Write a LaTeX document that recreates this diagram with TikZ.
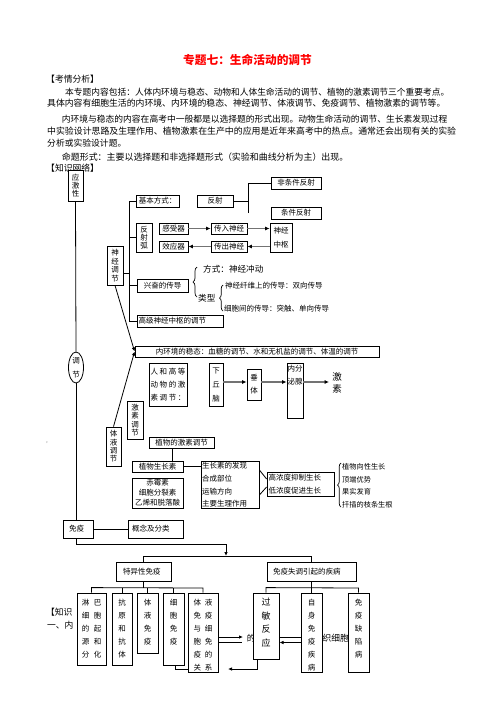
\documentclass[tikz,border=0pt]{standalone}
\usepackage{fontspec}
\newfontfamily\cjk{Noto Sans CJK SC}
\usetikzlibrary{arrows.meta,shapes.geometric,decorations.pathreplacing}
\newcommand\myfs[2]{\fontsize{#1}{#2}\selectfont}
\newcommand\jrow[1]{\hbox to 35pt{#1}}
\begin{document}
\begin{tikzpicture}[x=1pt,y=-1pt,
  box/.style={draw, line width=0.8pt, fill=white, inner sep=0pt, align=center, font=\cjk\myfs{7.5}{9}},
  vtx/.style={inner sep=0pt, align=center, font=\cjk\myfs{7.5}{13}},
  lbl/.style={inner sep=0pt, anchor=west, font=\cjk\myfs{7.5}{9}},
  para/.style={inner sep=0pt, anchor=west},
  conn/.style={line width=0.8pt},
  arr/.style={line width=0.8pt, -{Latex[length=4pt,width=3.5pt]}},
  garr/.style={line width=1.3pt, draw=black!55, -{Latex[length=4.5pt,width=4pt,color=black]}},
  brc/.style={decorate, decoration={brace, amplitude=4pt}, line width=0.7pt}]
\useasboundingbox (0,0) rectangle (496,702);
\fill[white] (0,0) rectangle (496,702);

% ---------- title and text ----------
\node[inner sep=0pt, font=\cjk\bfseries\myfs{11.7}{14}, text=red] (title) at (247.5,60) {专题七：生命活动的调节};
\node[para, font=\cjk\myfs{8.8}{10}] (h1) at (46,79.3) {【考情分析】};
\node[para, font=\cjk\myfs{8.73}{10}] (l1) at (65,92.3) {本专题内容包括：人体内环境与稳态、动物和人体生命活动的调节、植物的激素调节三个重要考点。};
\node[para, font=\cjk\myfs{8.85}{10}] (l2) at (47,103.5) {具体内容有细胞生活的内环境、内环境的稳态、神经调节、体液调节、免疫调节、植物激素的调节等。};
\node[para, font=\cjk\myfs{8.76}{10}] (l3) at (61.7,119) {内环境与稳态的内容在高考中一般都是以选择题的形式出现。动物生命活动的调节、生长素发现过程};
\node[para, font=\cjk\myfs{8.89}{10}] (l4) at (47,131) {中实验设计思路及生理作用、植物激素在生产中的应用是近年来高考中的热点。通常还会出现有关的实验};
\node[para, font=\cjk\myfs{8.8}{10}] (l5) at (47,143.3) {分析或实验设计题。};
\node[para, font=\cjk\myfs{8.95}{10}] (l6) at (61.7,156.7) {命题形式：主要以选择题和非选择题形式（实验和曲线分析为主）出现。};
\node[para, font=\cjk\myfs{8.8}{10}] (h2) at (46,168.3) {【知识网络】};
\node[inner sep=0pt, font=\cjk\myfs{6}{7}, text=gray] (cm) at (47,443) {,};

% background text fragments visible between the boxes at the bottom
\node[para, font=\cjk\myfs{8.75}{10}] (bg1) at (46,612) {【知识};
\node[para, font=\cjk\myfs{8.75}{10}] (bg2) at (47,625) {一、内};
\node[inner sep=0pt, font=\cjk\myfs{8.5}{10}] (bg3) at (251,638) {的};
\node[para, font=\cjk\myfs{8.7}{10}] (bg4) at (322.5,638) {织细胞};

% ---------- left column ----------
\node[box, minimum width=15pt, minimum height=31pt, font=\cjk\myfs{7.5}{8}] (yjx) at (75.5,185.5) {应\\激\\性};
\node[draw, ellipse, line width=0.8pt, fill=white, minimum width=15pt, minimum height=31pt, inner sep=0pt, align=center, font=\cjk\myfs{7.5}{14}] (tj) at (76,367.5) {调\\节};
\node[box, align=left, text width=18pt, inner xsep=6pt, minimum height=18pt] (my) at (78,529) {免疫};
\node[box, align=left, text width=47pt, inner xsep=4pt, minimum height=18pt] (gn) at (155.5,529) {概念及分类};

% ---------- nerve regulation ----------
\node[box, minimum width=16pt, minimum height=39pt, font=\cjk\myfs{7.5}{8.5}] (sjtj) at (115,265.5) {神\\经\\调\\节};
\node[box, minimum width=43pt, minimum height=12pt] (jbfs) at (157.5,201) {基本方式：};
\node[box, minimum width=36pt, minimum height=12pt] (fs) at (215,201) {反射};
\node[box, minimum width=50pt, minimum height=12pt] (ftj) at (296,183) {非条件反射};
\node[box, minimum width=50pt, minimum height=12pt] (tjfs) at (296,213) {条件反射};
\node[box, minimum width=16pt, minimum height=29pt, font=\cjk\myfs{7.5}{8}] (fsh) at (144,237.5) {反\\射\\弧};
\node[box, minimum width=29pt, minimum height=11pt] (gsq) at (173.5,228.5) {感受器};
\node[box, minimum width=36pt, minimum height=11pt] (crsj) at (229,228.5) {传入神经};
\node[box, minimum width=22pt, minimum height=29pt, font=\cjk\myfs{7.5}{14}] (sjzs) at (281,237.5) {神经\\中枢};
\node[box, minimum width=29pt, minimum height=11pt] (xyq) at (173.5,246.5) {效应器};
\node[box, minimum width=36pt, minimum height=11pt] (ccsj) at (229,246.5) {传出神经};
\node[box, minimum width=51pt, minimum height=13pt] (xfcd) at (162.5,285.5) {兴奋的传导};
\node[box, align=left, text width=83pt, inner xsep=1.5pt, minimum height=12pt] (gjsj) at (180,321) {高级神经中枢的调节};

\node[lbl, font=\cjk\myfs{8.6}{10}] (fsz) at (203,269) {方式：神经冲动};
\node[lbl, font=\cjk\myfs{8.6}{10}] (lx) at (198,298) {类型};
\node[lbl] (sw1) at (225,286) {神经纤维上的传导：双向传导};
\node[lbl] (sw2) at (224,309) {细胞间的传导：突触、单向传导};
\draw[brc] (197,297) -- (197,267);
\draw[brc, decoration={brace, amplitude=3.5pt}] (223,311) -- (223,285);

% trunk of nerve regulation
\coordinate (trT) at (129,201);
\coordinate (trB) at (129,321);
\draw[conn] (jbfs.west) -- (trT) -- (trB) -- (gjsj.west);
\draw[conn] (fsh.west) -- (fsh.west -| trT);
\draw[conn] (sjtj.east |- 0,273) -- (trT |- 0,273);
\draw[conn] (xfcd.west) -- (xfcd.west -| trT);

% reflex
\coordinate (rfT) at (248,183);
\coordinate (rfB) at (248,213);
\draw[conn] (fs.east) -- (fs.east -| rfT);
\draw[conn] (rfB) -- (rfT) -- (ftj.west);

% reflex arc arrows
\draw[garr] (gsq.east) -- (crsj.west);
\draw[garr] (crsj.east) -- (crsj.east -| sjzs.west);
\draw[garr] (ccsj.east -| sjzs.west) -- (ccsj.east);
\draw[garr] (ccsj.west) -- (xyq.east);

% ---------- internal environment / hormones ----------
\node[box, minimum width=244pt, minimum height=11pt] (nhj) at (257,351.5) {内环境的稳态：血糖的调节、水和无机盐的调节、体温的调节};
\node[box, minimum width=15pt, minimum height=39pt, font=\cjk\myfs{7.5}{8.3}] (tytj) at (113.5,446.5) {体\\液\\调\\节};
\node[box, minimum width=16pt, minimum height=38pt, font=\cjk\myfs{7.5}{8.3}] (jstj) at (135,420) {激\\素\\调\\节};
\draw[arr] (sjtj.south) -- (nhj.west);
\draw[arr] (tytj.north) -- (nhj.west);

\node[box, minimum width=38pt, minimum height=43pt, font=\cjk\myfs{7.5}{13}] (rhgd) at (168,384.5) {\jrow{人\hfill 和\hfill 高\hfill 等}\\\jrow{动\hfill 物\hfill 的\hfill 激}\\\jrow{素\hfill 调\hfill 节\hfill ：}};
\node[box, minimum width=14pt, minimum height=43pt, font=\cjk\myfs{7.5}{14}] (xqn) at (216,384.5) {下\\丘\\脑};
\node[box, minimum width=14pt, minimum height=31pt, font=\cjk\myfs{7.5}{13}] (ct) at (254,384.5) {垂\\体};
\node[box, minimum width=16pt, minimum height=55pt] (nfmx) at (295,390.5) {};
\node[vtx] (nfmxt) at (295,375.5) {内分\\泌腺};
\node[inner sep=0pt, align=center, font=\cjk\myfs{9.5}{11.5}] (jsu) at (337,383) {激\\素};
\draw[garr] (xqn.east |- 0,382) -- (ct.west |- 0,382);
\draw[garr] (ct.east |- 0,382) -- (nfmx.west |- 0,382);
\draw[garr] (nfmx.east |- 0,382) -- ([xshift=-3pt]jsu.west |- 0,382);

% ---------- plant hormones ----------
\node[box, minimum width=65pt, minimum height=11pt] (zwjs) at (181.5,442.5) {植物的激素调节};
\node[box, minimum width=51pt, minimum height=11pt] (zwszs) at (157.5,466.5) {植物生长素};
\node[box, minimum width=51pt, minimum height=30pt, font=\cjk\myfs{7.5}{10}] (cms) at (157.5,493) {赤霉素\\细胞分裂素\\乙烯和脱落酸};
\node[box, minimum width=58pt, minimum height=47pt] (szs) at (230,484.5) {};
\node[inner sep=0pt, anchor=north west, align=left, font=\cjk\myfs{7.5}{12.7}] (szst) at (202,462.3) {生长素的发现\\合成部位\\运输方向\\主要生理作用};
\node[box, align=left, text width=64pt, inner xsep=1.5pt, minimum height=24pt, font=\cjk\myfs{7.5}{13}] (gnd) at (300.5,484) {高浓度抑制生长\\低浓度促进生长};
\draw[conn] (zwjs.south -| 172,0) -- (zwszs.north -| 172,0);
\draw[conn] (zwszs.east) -- (zwszs.east -| szs.west);
\draw[conn] (szs.east |- 0,470) -- (gnd.west |- 0,479);
\draw[conn] (szs.east |- 0,495) -- (gnd.west |- 0,487);
\draw[brc, decoration={brace, amplitude=3.5pt}] (341,507) -- (341,463);
\node[lbl, font=\cjk\myfs{7.2}{9}] (e1) at (342,467) {植物向性生长};
\node[lbl, font=\cjk\myfs{7.2}{9}] (e2) at (342,480) {顶端优势};
\node[lbl, font=\cjk\myfs{7.2}{9}] (e3) at (342,492) {果实发育};
\node[lbl, font=\cjk\myfs{7.2}{9}] (e4) at (342,505) {扦插的枝条生根};

% ---------- main vertical ----------
\draw[conn] (yjx.south) -- (tj.north);
\draw[conn] (tj.south) -- (tj.south |- my.north);
\draw[conn] (my.east) -- (gn.west);

% ---------- immunity ----------
\node[box, align=left, text width=41pt, inner xsep=7pt, minimum height=19pt] (tyx) at (143.5,571.5) {特异性免疫};
\node[box, align=left, text width=77pt, inner xsep=6pt, minimum height=19pt] (mysd) at (311.5,571.5) {免疫失调引起的疾病};
\coordinate (jn) at (226,556);
\draw[arr] (tj.south |- my.south) -- ++(0,6) -| (jn);
\draw[conn] (tyx.north) -- (tyx.north |- jn) -- (mysd.north |- jn) -- (mysd.north);

% background arrows (partly hidden)
\draw[arr] (218,637) -- (243,637);
\draw[conn] (218,642.5) -- (242,642.5);
\draw[conn] (279,637) -- (301,637);
\draw[arr] (301,642.5) -- (279.5,642.5);

\node[box, minimum width=29pt, minimum height=72pt] (b1) at (91.5,629) {};
\node[box, minimum width=20pt, minimum height=72pt] (b2) at (122,629) {};
\node[box, minimum width=21pt, minimum height=60pt] (b3) at (147.5,623) {};
\node[box, minimum width=21pt, minimum height=72pt] (b4) at (173.5,629) {};
\node[box, minimum width=30pt, minimum height=79pt] (b5) at (203,632.5) {};
\node[box, minimum width=26pt, minimum height=66pt] (d1) at (266,626) {};
\node[box, minimum width=21pt, minimum height=79pt] (d2) at (311.5,632.5) {};
\node[box, minimum width=21pt, minimum height=79pt] (d3) at (358.5,632.5) {};

\node[vtx, anchor=north] (b1t) at (91.5,598.6) {淋\hspace{4.5pt}巴\\细\hspace{4.5pt}胞\\的\hspace{4.5pt}起\\源\hspace{4.5pt}和\\分\hspace{4.5pt}化};
\node[vtx, anchor=north] (b2t) at (122,598.6) {抗\\原\\和\\抗\\体};
\node[vtx, anchor=north] (b3t) at (147.5,598.6) {体\\液\\免\\疫};
\node[vtx, anchor=north] (b4t) at (173.5,598.6) {细\\胞\\免\\疫};
\begin{scope}
\clip (187,593) rectangle (219,671.6);
\node[vtx, anchor=north] (b5t) at (203,598.6) {体\hspace{4pt}液\\免\hspace{4pt}疫\\与\hspace{4pt}细\\胞\hspace{4pt}免\\疫\hspace{4pt}的\\关\hspace{4pt}系};
\end{scope}
\node[vtx, anchor=north, font=\cjk\myfs{9}{13.5}] (d1t) at (266,597.8) {过\\敏\\反\\应};
\begin{scope}
\clip (300,593) rectangle (323,671.6);
\node[vtx, anchor=north] (d2t) at (311.5,598.6) {自\\身\\免\\疫\\疾\\病};
\end{scope}
\node[vtx, anchor=north] (d3t) at (358.5,598.6) {免\\疫\\缺\\陷\\病};

\draw[conn] (tyx.south) -- (tyx.south |- 0,588);
\draw[conn] (b1.north) -- ++(0,-5) -- (b5.north |- 0,588) -- (b5.north);
\draw[conn] (b2.north) -- ++(0,-5);
\draw[conn] (b3.north) -- ++(0,-5);
\draw[conn] (b4.north) -- ++(0,-5);
\draw[conn] (mysd.south) -- (mysd.south |- 0,588);
\draw[conn] (d1.north) -- ++(0,-5) -- (d3.north |- 0,588) -- (d3.north);
\draw[conn] (d2.north) -- ++(0,-5);

\draw[conn] (b4.south -| 175,0) -- (175,669) -- (b5.west |- 0,669);
\draw[arr] (d1.south -| 257.5,0) -- (257.5,669) -- (228,669);
\end{tikzpicture}
\end{document}
